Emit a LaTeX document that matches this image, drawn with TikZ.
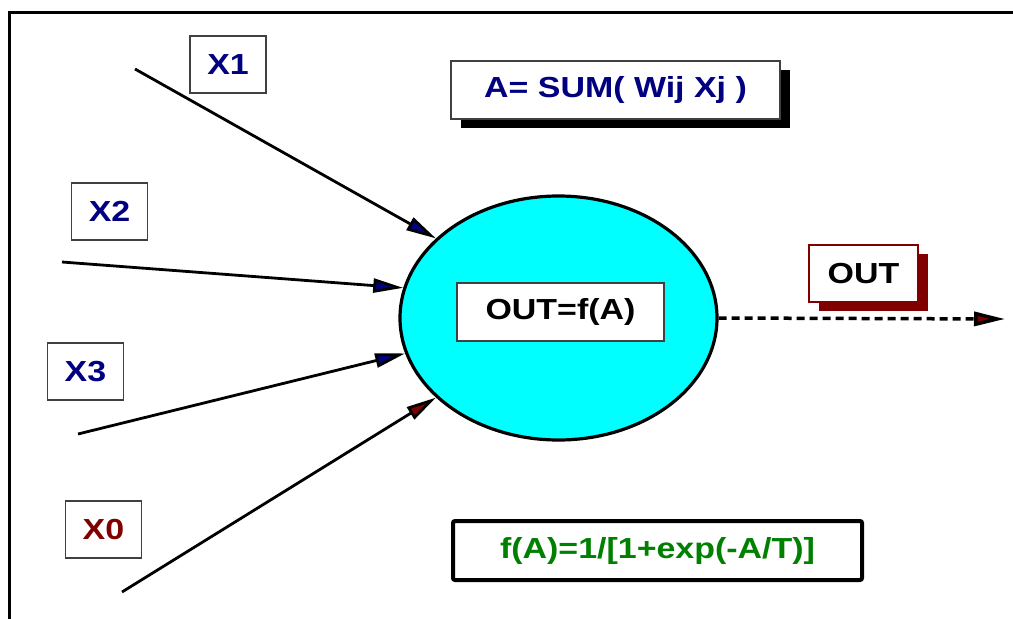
\documentclass[tikz,border=0pt]{standalone}
\usepackage{fontspec}
\setmainfont[FakeStretch=1.17]{Liberation Sans}
\usetikzlibrary{arrows.meta,shapes.geometric,shadows}
\definecolor{navyblue}{RGB}{0,0,128}
\definecolor{maroon}{RGB}{128,0,0}
\definecolor{formgreen}{RGB}{0,128,0}
\definecolor{boxgray}{RGB}{64,64,64}
\definecolor{cellcyan}{RGB}{0,255,255}
\begin{document}
\begin{tikzpicture}[x=1pt, y=-1pt,
  lbl/.style={inner sep=0pt, font=\fontsize{29}{31}\selectfont\bfseries},
  inbox/.style={lbl, draw=boxgray, line width=1.5pt, fill=white,
    minimum width=76pt, minimum height=57pt},
  shbox/.style={drop shadow={shadow xshift=10pt, shadow yshift=-9pt,
    fill=#1, opacity=1}},
  inline/.style={line width=2.8pt,
    -{Triangle[length=30pt, width=14pt, fill=#1]}}]
  \useasboundingbox (0,0) rectangle (1013,619);
  % frame
  \draw[line width=3pt] (1013,12) -- (9,12) -- (9,619);
  % neuron
  \node[ellipse, draw, line width=3.2pt, fill=cellcyan, inner sep=0pt,
    minimum width=317pt, minimum height=244pt] (cell) at (558.5,318) {};
  \node[inbox, minimum width=207pt, minimum height=58pt] (outf)
    at (560.5,312) {OUT=f(A)};
  % weighted sum and transfer function
  \node[inbox, shbox=black, text=navyblue, minimum width=329pt,
    minimum height=58pt] (sum) at (615.5,90) {A= SUM( Wij Xj )};
  \node[lbl, draw, line width=4pt, rounded corners=2pt, text=formgreen,
    minimum width=409pt, minimum height=59pt] (fa)
    at (657.5,550.5) {f(A)=1/[1+exp(-A/T)]};
  % inputs
  \node[inbox, text=navyblue] (x1) at (228,64.5) {X1};
  \node[inbox, text=navyblue] (x2) at (109.5,211.5) {X2};
  \node[inbox, text=navyblue] (x3) at (85.5,371.5) {X3};
  \node[inbox, text=maroon] (x0) at (103.5,529.5) {X0};
  \coordinate (s1) at (135,69);
  \coordinate (s2) at (62,262);
  \coordinate (s3) at (78,434);
  \coordinate (s0) at (122,592);
  \draw[inline=navyblue] (s1) -- (cell.147.5);
  \draw[inline=navyblue] (s2) -- (cell.169.6);
  \draw[inline=navyblue] (s3) -- (cell.193.4);
  \draw[inline=maroon] (s0) -- (cell.213.9);
  % output
  \node[inbox, draw=maroon, shbox=maroon, minimum width=109pt] (out)
    at (863.5,273.5) {OUT};
  \coordinate (e) at (1005,319);
  \draw[line width=3.5pt, dash pattern=on 8pt off 5pt,
    -{Triangle[length=31pt, width=14pt, fill=maroon]}] (cell.east) -- (e);
\end{tikzpicture}
\end{document}
